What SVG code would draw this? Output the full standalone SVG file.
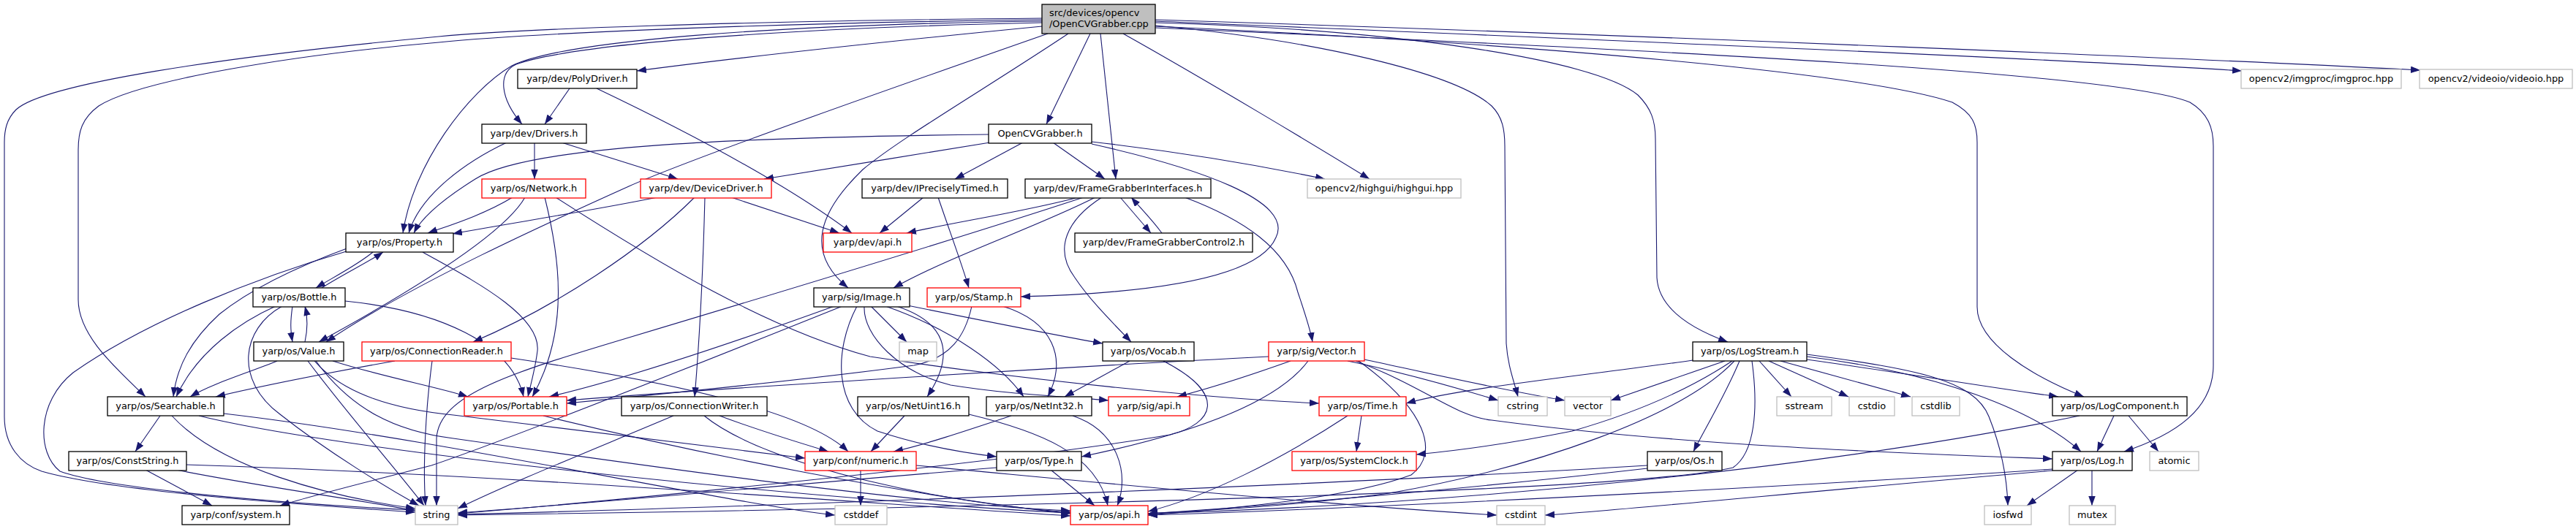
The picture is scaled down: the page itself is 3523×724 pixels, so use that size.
<svg xmlns="http://www.w3.org/2000/svg" width="3523" height="724" viewBox="0 0 3523 724">
<defs>
<style>
.n rect{fill:#fff;stroke:#000;stroke-width:1.3}
.r rect{stroke:#ff0000}
.g rect{stroke:#bfbfbf}
#root rect{fill:#bfbfbf}
text{font-family:"DejaVu Sans","Liberation Sans",sans-serif;font-size:12.9px;fill:#000}
.c{text-anchor:middle}
#edges path{fill:none;stroke:#191970;stroke-width:1.1;marker-end:url(#a)}
</style>
<marker id="a" markerUnits="userSpaceOnUse" markerWidth="14" markerHeight="10" refX="13" refY="4.75" orient="auto"><path d="M0,0 L13,4.75 L0,9.5 z" fill="#191970"/></marker>
</defs>
<rect x="0" y="0" width="3523" height="724" fill="#fff"/>
<g id="edges">
<path d="M1425,36 C1200,58 1000,80 871,97"/>
<path d="M1425,31 C1100,38 790,58 706,88 C680,100 684,135 714,170"/>
<path d="M1425,29 C1050,34 770,56 700,90 C640,125 565,225 551,319"/>
<path d="M1425,27 C1000,32 700,48 600,58 C400,75 190,110 135,145 C112,162 107,180 107,205 L107,410 C107,460 160,505 199,543"/>
<path d="M1425,25 C1000,29 700,40 600,50 C300,78 60,115 22,150 C9,163 6,178 6,195 L6,570 C6,610 28,635 57,645 C150,672 400,690 568,701"/>
<path d="M1433,46 C1250,110 950,215 860,255 C760,300 560,390 446,468"/>
<path d="M1491,46 L1431,170"/>
<path d="M1505,46 L1526,245"/>
<path d="M1536,46 C1650,110 1800,200 1873,245"/>
<path d="M1461,46 C1350,120 1230,190 1180,232 C1120,290 1100,345 1160,394"/>
<path d="M1580,35 C1800,55 1990,100 2040,145 C2055,160 2058,178 2058,200 L2060,470 C2062,500 2070,520 2076,543"/>
<path d="M1580,31 C1900,40 2180,80 2240,130 C2258,148 2264,165 2264,190 L2266,380 C2268,415 2300,445 2363,468"/>
<path d="M1580,36 C2100,60 2550,100 2670,140 C2698,155 2704,170 2704,195 L2704,420 C2704,470 2780,515 2850,543"/>
<path d="M1580,38 C2300,70 2900,100 2995,140 C3020,155 3027,175 3027,200 L3027,500 C3027,560 2975,595 2905,618"/>
<path d="M1580,29 C2200,55 2800,80 3066,97"/>
<path d="M1580,27 C2300,50 3000,80 3310,96"/>
<path d="M779,121 L745,170"/>
<path d="M816,121 C950,185 1080,255 1165,319"/>
<path d="M731,195 L731,245"/>
<path d="M768,195 L927,245"/>
<path d="M693,195 C640,220 575,265 559,319"/>
<path d="M1352,184 C1000,188 720,200 650,245 C610,270 578,295 566,319"/>
<path d="M1354,195 C1250,212 1150,228 1045,245"/>
<path d="M1399,195 L1306,245"/>
<path d="M1440,195 L1511,245"/>
<path d="M1493,194 C1650,212 1750,232 1812,245"/>
<path d="M1493,197 C1640,230 1770,275 1745,325 C1720,385 1550,402 1396,406"/>
<path d="M701,270 C660,295 610,310 585,319"/>
<path d="M718,270 C690,320 560,400 436,468"/>
<path d="M745,270 C765,350 780,450 728,543"/>
<path d="M760,270 C900,360 1050,450 1190,488 C1400,520 1650,545 1804,552"/>
<path d="M899,270 C800,290 700,305 619,320"/>
<path d="M950,270 C880,340 760,420 647,468"/>
<path d="M964,270 C962,350 958,450 950,543"/>
<path d="M1000,270 L1148,319"/>
<path d="M1263,270 L1203,319"/>
<path d="M1283,270 C1300,320 1315,360 1325,394"/>
<path d="M1475,270 C1400,290 1300,305 1240,319"/>
<path d="M1532,270 L1574,319"/>
<path d="M1507,270 C1460,300 1440,340 1470,380 C1490,410 1520,440 1547,468"/>
<path d="M1620,270 C1700,300 1760,340 1775,400 C1785,430 1792,450 1795,468"/>
<path d="M1498,270 C1420,310 1300,350 1222,394"/>
<path d="M1482,270 C1300,330 1000,420 860,462 C700,510 600,540 597,600 L597,692"/>
<path d="M1589,319 C1575,300 1560,285 1547,270"/>
<path d="M510,345 C490,362 455,380 432,394"/>
<path d="M477,339 C420,360 350,390 300,430 C262,465 242,500 237,543"/>
<path d="M477,343 C350,380 200,440 100,510 C50,550 50,620 82,645 C150,670 400,690 568,698"/>
<path d="M578,345 C640,380 740,430 735,480 C732,505 726,525 722,543"/>
<path d="M440,394 C470,375 505,358 524,345"/>
<path d="M400,419 C397,440 397,450 400,468"/>
<path d="M377,419 C330,440 270,480 241,543"/>
<path d="M386,419 C330,450 320,520 383,567 C450,620 530,668 573,692"/>
<path d="M472,412 C600,425 700,470 716,543"/>
<path d="M417,468 C421,450 421,435 417,419"/>
<path d="M379,494 C340,510 290,525 260,543"/>
<path d="M421,494 C470,560 540,640 580,692"/>
<path d="M455,494 C520,515 600,530 640,543"/>
<path d="M430,494 C470,540 540,560 620,568 C800,590 1000,615 1101,627"/>
<path d="M432,494 C480,560 540,590 620,600 C900,640 1250,690 1464,699"/>
<path d="M219,569 L185,618"/>
<path d="M235,569 C300,640 450,680 568,696"/>
<path d="M272,569 C500,625 1200,690 1464,702"/>
<path d="M306,566 C600,600 1000,690 1142,705"/>
<path d="M199,643 L290,692"/>
<path d="M241,643 C350,665 480,682 568,699"/>
<path d="M255,636 C700,650 1200,690 1464,706"/>
<path d="M540,494 C450,510 350,530 295,543"/>
<path d="M591,494 C582,560 578,640 582,692"/>
<path d="M699,490 C900,520 1100,560 1160,618"/>
<path d="M921,569 C800,620 700,660 626,696"/>
<path d="M984,569 C1040,590 1090,605 1133,618"/>
<path d="M963,569 C1050,640 1300,690 1464,701"/>
<path d="M743,569 C950,620 1250,680 1464,703"/>
<path d="M1191,419 L1240,468"/>
<path d="M1226,419 C1290,440 1310,480 1268,543"/>
<path d="M1211,419 C1300,450 1370,500 1400,543"/>
<path d="M1241,418 C1350,440 1450,460 1508,470"/>
<path d="M1182,419 C1180,460 1230,510 1300,527 C1380,540 1450,542 1516,548"/>
<path d="M1141,419 C1000,470 850,520 751,543"/>
<path d="M1172,419 C1140,480 1140,560 1200,590 C1260,610 1320,620 1363,625"/>
<path d="M1152,419 C1000,480 700,600 590,637 C500,660 420,680 383,692"/>
<path d="M1371,419 C1440,440 1460,490 1433,543"/>
<path d="M1329,419 C1320,460 1300,490 1250,500 C1100,520 900,540 775,552"/>
<path d="M1545,494 L1456,543"/>
<path d="M1591,494 C1680,540 1660,580 1600,595 C1400,630 900,680 626,703"/>
<path d="M1735,488 C1500,500 1000,530 775,548"/>
<path d="M1765,494 C1720,510 1660,530 1610,543"/>
<path d="M1789,494 C1740,560 1600,600 1479,625"/>
<path d="M1843,494 C1920,510 1990,530 2049,548"/>
<path d="M1866,492 C1950,510 2060,535 2140,548"/>
<path d="M1854,494 C1950,530 1990,570 2040,575 C2300,610 2600,620 2807,628"/>
<path d="M1858,494 C1950,560 1970,620 1930,650 C1850,680 1700,695 1570,705"/>
<path d="M1237,569 L1191,618"/>
<path d="M1325,567 C1420,590 1500,620 1515,692"/>
<path d="M1383,569 C1320,590 1260,610 1222,618"/>
<path d="M1467,569 C1530,590 1545,650 1528,692"/>
<path d="M1177,643 L1177,692"/>
<path d="M1253,637 C1500,660 1800,690 2047,705"/>
<path d="M1437,643 L1497,692"/>
<path d="M1363,640 C1000,670 800,690 626,702"/>
<path d="M1862,569 L1855,618"/>
<path d="M1843,569 C1750,630 1650,680 1570,700"/>
<path d="M2315,493 C2200,510 2000,530 1923,552"/>
<path d="M2359,494 L2203,548"/>
<path d="M2369,494 C2300,540 2220,570 2150,590 C2050,610 1980,618 1937,622"/>
<path d="M2379,494 C2360,540 2330,590 2316,618"/>
<path d="M2372,494 C2300,570 2100,640 1900,675 C1750,695 1620,700 1570,703"/>
<path d="M2396,494 C2405,560 2400,620 2370,640 C2200,680 1000,700 626,705"/>
<path d="M2406,494 L2450,543"/>
<path d="M2419,494 L2528,543"/>
<path d="M2435,494 L2613,543"/>
<path d="M2471,492 C2600,510 2720,530 2815,543"/>
<path d="M2471,488 C2650,510 2780,560 2846,618"/>
<path d="M2471,485 C2620,505 2700,520 2720,570 C2740,620 2745,660 2746,692"/>
<path d="M2891,569 L2868,618"/>
<path d="M2911,569 L2952,618"/>
<path d="M2844,569 C2500,640 2000,690 1570,703"/>
<path d="M2253,641 C2000,670 1700,695 1570,703"/>
<path d="M2253,637 C1800,665 1000,695 626,704"/>
<path d="M2842,643 L2772,692"/>
<path d="M2861,643 L2861,692"/>
<path d="M2807,642 C2400,670 1800,698 1570,705"/>
<path d="M2807,644 C2500,670 2200,700 2113,705"/>
</g>
<g id="root" class="n"><rect x="1425" y="6" width="155" height="40"/><text x="1435" y="22">src/devices/opencv</text><text x="1435" y="37">/OpenCVGrabber.cpp</text></g>
<g id="polydriver" class="n"><rect x="708" y="95" width="163" height="26"/><text class="c" x="789.5" y="112">yarp/dev/PolyDriver.h</text></g>
<g id="imgproc" class="n g"><rect x="3065" y="95" width="219" height="26"/><text class="c" x="3174.5" y="112">opencv2/imgproc/imgproc.hpp</text></g>
<g id="videoio" class="n g"><rect x="3309" y="95" width="209" height="26"/><text class="c" x="3413.5" y="112">opencv2/videoio/videoio.hpp</text></g>
<g id="drivers" class="n"><rect x="659" y="170" width="143" height="26"/><text class="c" x="730.5" y="187">yarp/dev/Drivers.h</text></g>
<g id="ocvgh" class="n"><rect x="1352" y="170" width="141" height="26"/><text class="c" x="1422.5" y="187">OpenCVGrabber.h</text></g>
<g id="network" class="n r"><rect x="659" y="245" width="142" height="26"/><text class="c" x="730" y="262">yarp/os/Network.h</text></g>
<g id="devicedriver" class="n r"><rect x="876" y="245" width="179" height="26"/><text class="c" x="965.5" y="262">yarp/dev/DeviceDriver.h</text></g>
<g id="iprecisely" class="n"><rect x="1179" y="245" width="199" height="26"/><text class="c" x="1278.5" y="262">yarp/dev/IPreciselyTimed.h</text></g>
<g id="fgi" class="n"><rect x="1402" y="245" width="254" height="26"/><text class="c" x="1529" y="262">yarp/dev/FrameGrabberInterfaces.h</text></g>
<g id="highgui" class="n g"><rect x="1788" y="245" width="210" height="26"/><text class="c" x="1893" y="262">opencv2/highgui/highgui.hpp</text></g>
<g id="property" class="n"><rect x="473" y="319" width="147" height="26"/><text class="c" x="546.5" y="336">yarp/os/Property.h</text></g>
<g id="devapi" class="n r"><rect x="1126" y="319" width="121" height="26"/><text class="c" x="1186.5" y="336">yarp/dev/api.h</text></g>
<g id="fgc2" class="n"><rect x="1470" y="319" width="243" height="26"/><text class="c" x="1591.5" y="336">yarp/dev/FrameGrabberControl2.h</text></g>
<g id="bottle" class="n"><rect x="346" y="394" width="126" height="26"/><text class="c" x="409" y="411">yarp/os/Bottle.h</text></g>
<g id="image" class="n"><rect x="1113" y="394" width="131" height="26"/><text class="c" x="1178.5" y="411">yarp/sig/Image.h</text></g>
<g id="stamp" class="n r"><rect x="1268" y="394" width="128" height="26"/><text class="c" x="1332" y="411">yarp/os/Stamp.h</text></g>
<g id="value" class="n"><rect x="347" y="468" width="123" height="26"/><text class="c" x="408.5" y="485">yarp/os/Value.h</text></g>
<g id="connreader" class="n r"><rect x="495" y="468" width="204" height="26"/><text class="c" x="597" y="485">yarp/os/ConnectionReader.h</text></g>
<g id="map" class="n g"><rect x="1230" y="468" width="51" height="26"/><text class="c" x="1255.5" y="485">map</text></g>
<g id="vocab" class="n"><rect x="1508" y="468" width="125" height="26"/><text class="c" x="1570.5" y="485">yarp/os/Vocab.h</text></g>
<g id="vector_h" class="n r"><rect x="1735" y="468" width="131" height="26"/><text class="c" x="1800.5" y="485">yarp/sig/Vector.h</text></g>
<g id="logstream" class="n"><rect x="2315" y="468" width="156" height="26"/><text class="c" x="2393" y="485">yarp/os/LogStream.h</text></g>
<g id="searchable" class="n"><rect x="147" y="543" width="159" height="26"/><text class="c" x="226.5" y="560">yarp/os/Searchable.h</text></g>
<g id="portable" class="n r"><rect x="635" y="543" width="140" height="26"/><text class="c" x="705" y="560">yarp/os/Portable.h</text></g>
<g id="connwriter" class="n"><rect x="850" y="543" width="199" height="26"/><text class="c" x="949.5" y="560">yarp/os/ConnectionWriter.h</text></g>
<g id="netuint16" class="n"><rect x="1173" y="543" width="152" height="26"/><text class="c" x="1249" y="560">yarp/os/NetUint16.h</text></g>
<g id="netint32" class="n"><rect x="1349" y="543" width="144" height="26"/><text class="c" x="1421" y="560">yarp/os/NetInt32.h</text></g>
<g id="sigapi" class="n r"><rect x="1516" y="543" width="111" height="26"/><text class="c" x="1571.5" y="560">yarp/sig/api.h</text></g>
<g id="time" class="n r"><rect x="1804" y="543" width="119" height="26"/><text class="c" x="1863.5" y="560">yarp/os/Time.h</text></g>
<g id="cstring" class="n g"><rect x="2049" y="543" width="67" height="26"/><text class="c" x="2082.5" y="560">cstring</text></g>
<g id="vector" class="n g"><rect x="2140" y="543" width="63" height="26"/><text class="c" x="2171.5" y="560">vector</text></g>
<g id="sstream" class="n g"><rect x="2430" y="543" width="75" height="26"/><text class="c" x="2467.5" y="560">sstream</text></g>
<g id="cstdio" class="n g"><rect x="2529" y="543" width="62" height="26"/><text class="c" x="2560" y="560">cstdio</text></g>
<g id="cstdlib" class="n g"><rect x="2615" y="543" width="65" height="26"/><text class="c" x="2647.5" y="560">cstdlib</text></g>
<g id="logcomponent" class="n"><rect x="2807" y="543" width="184" height="26"/><text class="c" x="2899" y="560">yarp/os/LogComponent.h</text></g>
<g id="conststring" class="n"><rect x="94" y="618" width="161" height="26"/><text class="c" x="174.5" y="635">yarp/os/ConstString.h</text></g>
<g id="numeric" class="n r"><rect x="1101" y="618" width="152" height="26"/><text class="c" x="1177" y="635">yarp/conf/numeric.h</text></g>
<g id="type" class="n"><rect x="1363" y="618" width="116" height="26"/><text class="c" x="1421" y="635">yarp/os/Type.h</text></g>
<g id="systemclock" class="n r"><rect x="1767" y="618" width="170" height="26"/><text class="c" x="1852" y="635">yarp/os/SystemClock.h</text></g>
<g id="os" class="n"><rect x="2253" y="618" width="102" height="26"/><text class="c" x="2304" y="635">yarp/os/Os.h</text></g>
<g id="log" class="n"><rect x="2807" y="618" width="109" height="26"/><text class="c" x="2861.5" y="635">yarp/os/Log.h</text></g>
<g id="atomic" class="n g"><rect x="2940" y="618" width="67" height="26"/><text class="c" x="2973.5" y="635">atomic</text></g>
<g id="system" class="n"><rect x="249" y="692" width="147" height="26"/><text class="c" x="322.5" y="709">yarp/conf/system.h</text></g>
<g id="string" class="n g"><rect x="568" y="692" width="58" height="26"/><text class="c" x="597" y="709">string</text></g>
<g id="cstddef" class="n g"><rect x="1142" y="692" width="71" height="26"/><text class="c" x="1177.5" y="709">cstddef</text></g>
<g id="osapi" class="n r"><rect x="1464" y="692" width="106" height="26"/><text class="c" x="1517" y="709">yarp/os/api.h</text></g>
<g id="cstdint" class="n g"><rect x="2047" y="692" width="66" height="26"/><text class="c" x="2080" y="709">cstdint</text></g>
<g id="iosfwd" class="n g"><rect x="2714" y="692" width="64" height="26"/><text class="c" x="2746" y="709">iosfwd</text></g>
<g id="mutex" class="n g"><rect x="2830" y="692" width="63" height="26"/><text class="c" x="2861.5" y="709">mutex</text></g>
</svg>
